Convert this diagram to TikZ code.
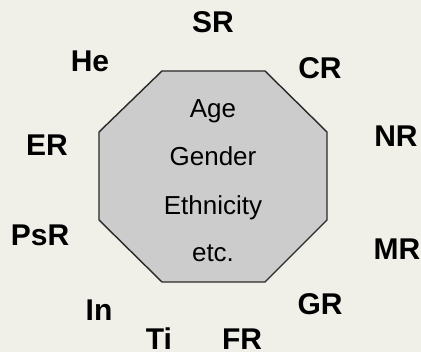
\documentclass[tikz,border=0pt]{standalone}
\usepackage{fontspec}
\setmainfont{Liberation Sans}
\definecolor{paper}{RGB}{240,240,232}
\definecolor{octfill}{RGB}{204,204,204}
\definecolor{octline}{RGB}{40,40,40}
\begin{document}
\begin{tikzpicture}[x=1pt,y=-1pt,
  factor/.style={inner sep=0pt,anchor=center,font=\fontsize{30}{36}\selectfont\bfseries},
  attr/.style={inner sep=0pt,anchor=base,font=\fontsize{26}{30}\selectfont},
  octagon/.style={fill=octfill,draw=octline,line width=1.4pt,line join=miter}]
  % canvas
  \fill[paper] (0,0) rectangle (421,352);
  \useasboundingbox (0,0) rectangle (421,352);

  % central octagon
  \coordinate (o1) at (162,71);
  \coordinate (o2) at (265,71);
  \coordinate (o3) at (327,132);
  \coordinate (o4) at (327,220);
  \coordinate (o5) at (265,282);
  \coordinate (o6) at (162,282);
  \coordinate (o7) at (99,220);
  \coordinate (o8) at (99,132);
  \draw[octagon] (o1) -- (o2) -- (o3) -- (o4) -- (o5) -- (o6) -- (o7) -- (o8) -- cycle;

  % attributes inside the octagon
  \node[attr] (age)    at (213,117.5) {Age};
  \node[attr] (gender) at (213,166)   {Gender};
  \node[attr] (eth)    at (213,214.5) {Ethnicity};
  \node[attr] (etc)    at (213,262)   {etc.};

  % surrounding factors
  \node[factor] (sr)  at (213,22)  {SR};
  \node[factor] (he)  at (90,61)   {He};
  \node[factor] (cr)  at (320,68.5){CR};
  \node[factor] (nr)  at (396,136) {NR};
  \node[factor] (er)  at (47,145)  {ER};
  \node[factor] (psr) at (40,235)  {PsR};
  \node[factor] (mr)  at (397,249) {MR};
  \node[factor] (gr)  at (320,304) {GR};
  \node[factor] (in)  at (99,310)  {In};
  \node[factor] (ti)  at (159,339) {Ti};
  \node[factor] (fr)  at (242,339) {FR};
\end{tikzpicture}
\end{document}
